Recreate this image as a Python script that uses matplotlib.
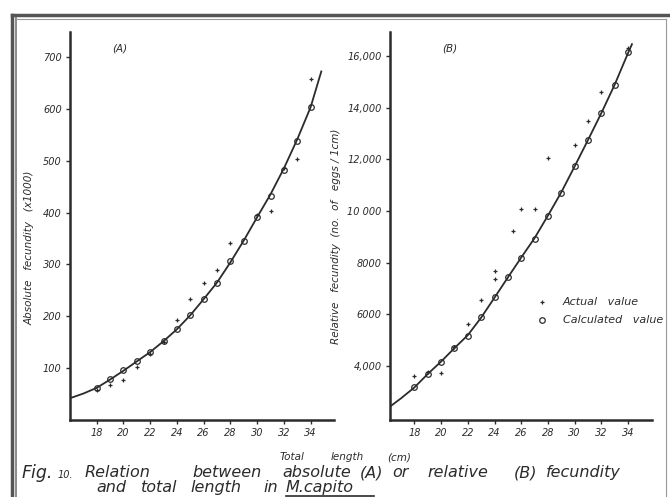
import matplotlib
matplotlib.use("Agg")
import matplotlib.pyplot as plt
from matplotlib.lines import Line2D

# ---------- Data ----------
# Panel A: absolute fecundity (x1000) vs total length (cm)
curve_a_len = [16, 17, 18, 19, 20, 21, 22, 23, 24, 25, 26, 27, 28, 29, 30, 31, 32, 33, 34, 34.8]
curve_a = [42, 51, 62, 78, 95, 113, 131, 152, 175, 202, 233, 265, 304, 346, 391, 435, 485, 541, 603, 672]

calc_len = [18, 19, 20, 21, 22, 23, 24, 25, 26, 27, 28, 29, 30, 31, 32, 33, 34]
calc_a = [62, 80, 96, 114, 131, 152, 175, 203, 234, 264, 306, 345, 392, 432, 482, 538, 603]

act_a_len = [18, 19, 20, 21, 22, 23, 24, 25, 26, 27, 28, 30, 31, 32, 33, 34]
act_a = [57, 67, 78, 102, 128, 150, 192, 234, 265, 289, 342, 395, 403, 485, 503, 657]

# Panel B: relative fecundity (no. of eggs / 1 cm) vs total length (cm)
curve_b_len = [16.2, 17, 18, 19, 20, 21, 22, 23, 24, 25, 26, 27, 28, 29, 30, 31, 32, 33, 34, 34.3]
curve_b = [2450, 2760, 3180, 3700, 4180, 4700, 5200, 5880, 6650, 7430, 8200, 8950,
           9820, 10720, 11720, 12740, 13780, 14880, 16100, 16450]

calc_b = [3180, 3710, 4170, 4700, 5170, 5900, 6690, 7450, 8200, 8920, 9810,
          10700, 11730, 12760, 13780, 14870, 16150]

act_b_len = [18, 19, 20, 21, 22, 23, 24, 24, 25.4, 26, 27, 28, 30, 31, 32, 34]
act_b = [3640, 3760, 3720, 4760, 5650, 6550, 7690, 7370, 9230, 10060, 10060,
         12050, 12570, 13480, 14610, 16300]

x_ticks = [18, 20, 22, 24, 26, 28, 30, 32, 34]
a_yticks = [100, 200, 300, 400, 500, 600, 700]
a_ylabels = ["100", "200", "300", "400", "500", "600", "700"]
b_yticks = [4000, 6000, 8000, 10000, 12000, 14000, 16000]
b_ylabels = ["4,000", "6000", "8000", "10 000", "12,000", "14,000", "16,000"]

# caption words and their left edge (px) as laid out on the scan
caption_1 = [("Relation", 85), ("between", 192), ("absolute", 282), ("(A)", 360),
             ("or", 392), ("relative", 427), ("(B)", 514), ("fecundity", 546)]
caption_2 = [("and", 96), ("total", 141), ("length", 190), ("in", 263), ("M.capito", 286)]
xlabel_words = [("Total", 280), ("length", 331), ("(cm)", 387)]

INK = "#2b2b2b"
plt.rcParams["font.family"] = ["DejaVu Sans"]
plt.rcParams["font.style"] = "italic"

fig = plt.figure(figsize=(6.7, 4.97), dpi=100)
W, H = 670.0, 497.0


def box(x0, y_top, x1, y_bot):
    return [x0 / W, 1 - y_bot / H, (x1 - x0) / W, (y_bot - y_top) / H]


def ftext(x, y, s, **kw):
    # place text using pixel coords measured on the scan (origin top-left)
    return fig.text(x / W, 1 - y / H, s, color=INK, **kw)


ax_a = fig.add_axes(box(70, 32, 334, 420))
ax_b = fig.add_axes(box(390, 32, 652, 420))

for ax in (ax_a, ax_b):
    for side in ("top", "right"):
        ax.spines[side].set_visible(False)
    for side in ("left", "bottom"):
        ax.spines[side].set_linewidth(1.8)
        ax.spines[side].set_color(INK)
    ax.tick_params(direction="out", length=3, width=1, color=INK,
                   labelsize=7, labelcolor=INK, pad=3)
    ax.set_xticks(x_ticks)
    ax.set_xticklabels([str(t) for t in x_ticks], fontstyle="italic")

# Panel A
ax_a.plot(curve_a_len, curve_a, color=INK, lw=1.3)
ax_a.plot(calc_len, calc_a, "o", ms=4, mfc="none", mec=INK, mew=0.9)
ax_a.plot(act_a_len, act_a, "+", ms=3.5, color=INK, mew=0.9)
ax_a.set_xlim(16, 35.75)
ax_a.set_ylim(0, 748)
ax_a.set_yticks(a_yticks)
ax_a.set_yticklabels(a_ylabels, fontstyle="italic")
ax_a.text(0.16, 0.95, "(A)", transform=ax_a.transAxes, fontsize=7.5, color=INK)

# Panel B
ax_b.plot(curve_b_len, curve_b, color=INK, lw=1.3)
ax_b.plot(calc_len, calc_b, "o", ms=4, mfc="none", mec=INK, mew=0.9)
ax_b.plot(act_b_len, act_b, "+", ms=3.5, color=INK, mew=0.9)
ax_b.set_xlim(16.17, 35.8)
ax_b.set_ylim(1920, 16920)
ax_b.set_yticks(b_yticks)
ax_b.set_yticklabels(b_ylabels, fontstyle="italic")
ax_b.text(0.2, 0.95, "(B)", transform=ax_b.transAxes, fontsize=7.5, color=INK)

# axis titles
ftext(30, 248, "Absolute   fecundity   (x1000)", fontsize=7.5, rotation=90,
      ha="center", va="center")
ftext(336, 236, "Relative   fecundity  (no.  of   eggs / 1cm)", fontsize=7.5,
      rotation=90, ha="center", va="center")
for word, x in xlabel_words:
    ftext(x, 460, word, fontsize=7.5, va="baseline")

# legend drawn by hand so it can run past the frame like the scan
ax_b.plot([0.58], [0.305], "+", transform=ax_b.transAxes, ms=3.5, color=INK, mew=0.9, clip_on=False)
ax_b.plot([0.58], [0.258], "o", transform=ax_b.transAxes, ms=4, mfc="none", mec=INK, mew=0.9, clip_on=False)
ax_b.text(0.66, 0.305, "Actual   value", transform=ax_b.transAxes, fontsize=8,
          color=INK, va="center")
ax_b.text(0.66, 0.258, "Calculated   value", transform=ax_b.transAxes, fontsize=8,
          color=INK, va="center", clip_on=False)

# caption
ftext(22, 478, "Fig.", fontsize=12.5, va="baseline")
ftext(58, 478, "10.", fontsize=7, va="baseline")
for word, x in caption_1:
    ftext(x, 477, word, fontsize=11.5, va="baseline")
for word, x in caption_2:
    ftext(x, 492, word, fontsize=11.5, va="baseline")
fig.add_artist(Line2D([286 / W, 374 / W], [1 - 495.5 / H, 1 - 495.5 / H], color=INK, lw=1.2))

# scanned page frame
fig.add_artist(Line2D([12 / W, 12 / W], [0, 1 - 15 / H], color="#555555", lw=2.5))
fig.add_artist(Line2D([16 / W, 16 / W], [0, 1 - 18 / H], color="#777777", lw=1.2))
fig.add_artist(Line2D([12 / W, 1], [1 - 15 / H, 1 - 15 / H], color="#555555", lw=2.5))
fig.add_artist(Line2D([16 / W, 666 / W], [1 - 19 / H, 1 - 19 / H], color="#999999", lw=0.8))
fig.add_artist(Line2D([666 / W, 666 / W], [0, 1 - 19 / H], color="#999999", lw=0.8))

fig.savefig("out.png", dpi=100)
